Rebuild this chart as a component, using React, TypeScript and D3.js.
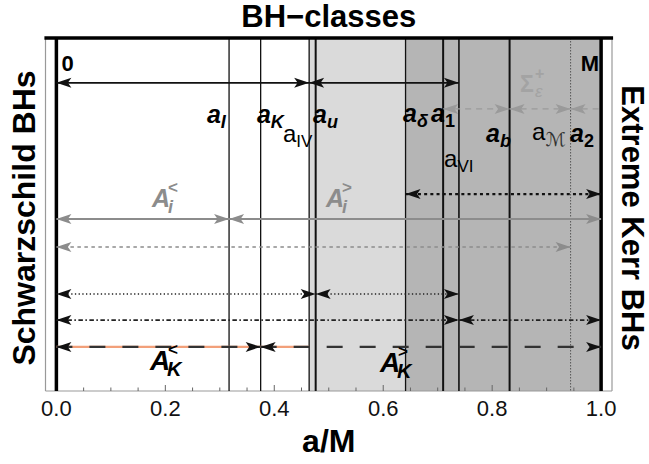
import React from "react";
import * as d3 from "d3";

const WIDTH = 649;
const HEIGHT = 464;

// characteristic spins a/M
const A_I = 0.317;
const A_K = 0.375;
const A_IV = 0.464;
const A_U = 0.476;
const A_DELTA = 0.641;
const A_1 = 0.710;
const A_VI = 0.739;
const A_B = 0.832;
const A_M = 0.944;

const boundaryNames = ["0", "aI", "aK", "aIV", "au", "adelta", "a1", "aVI", "ab", "aM", "M"];
const boundaryValues = [0, A_I, A_K, A_IV, A_U, A_DELTA, A_1, A_VI, A_B, A_M, 1];

const bandStarts = [A_IV, A_DELTA];
const bandEnds = [A_DELTA, 1];

// arrow rows (level in [0,1] of the vertical extent) and their intervals
const rowNames = ["top", "sigma", "dotBold", "Ai", "grayDash", "dotFine", "dashDot", "AK"];
const rowLevels = [0.873, 0.799, 0.558, 0.487, 0.408, 0.275, 0.201, 0.125];
const rowIntervals: [number, number][][] = [
  [[0, A_IV], [A_IV, A_VI]],
  [[A_1, A_B], [A_B, A_M], [A_M, 1]],
  [[A_DELTA, 1]],
  [[0, A_I], [A_I, 1]],
  [[0, A_M]],
  [[0, A_U], [A_U, A_VI]],
  [[0, A_VI], [A_VI, 1]],
  [[0, A_K], [A_K, 1]],
];
const highlightInterval: [number, number] = [0, A_IV];

// spin labels
const labelSubs = ["I", "K", "IV", "u", "δ", "1", "VI", "b", "ℳ", "2"];
const labelX = [0.2764, 0.3682, 0.416, 0.4711, 0.6364, 0.6878, 0.7117, 0.7888, 0.8733, 0.9431];
const labelLevel = [0.759, 0.759, 0.705, 0.759, 0.762, 0.762, 0.635, 0.705, 0.711, 0.705];
const labelBold = [true, true, false, true, true, true, false, true, false, true];

// region labels
const regionMain = ["A", "A", "A", "A"];
const regionSub = ["i", "i", "K", "K"];
const regionSup = ["<", ">", "<", ">"];
const regionX = [0.1755, 0.4948, 0.1718, 0.594];
const regionLevel = [0.521, 0.521, 0.0595, 0.054];

const tickValues = d3.range(0, 1.0001, 0.05);
const tickLabelValues = [0, 0.2, 0.4, 0.6, 0.8, 1.0];

const FONT = "'Liberation Sans', Arial, Helvetica, sans-serif";
const GRAY = "#8c8c8c";

export default function App() {
  const x = d3.scaleLinear().domain([-0.02, 1.02]).range([45.5, 612]);
  const y = d3.scaleLinear().domain([0, 1]).range([391, 38]);
  const yTop = y(1);
  const yBot = y(0);

  const boundaryStyle = (name: string) => {
    switch (name) {
      case "0":
      case "M":
        return { w: 3.5, c: "#000", dash: undefined };
      case "au":
      case "a1":
      case "ab":
        return { w: 2, c: "#111", dash: undefined };
      case "aM":
        return { w: 1, c: "#555", dash: "1.5 1.5" };
      case "aVI":
        return { w: 1.6, c: "#111", dash: undefined };
      default:
        return { w: 1.3, c: "#111", dash: undefined };
    }
  };
  const bandColors = ["#dadada", "#b5b5b5"];

  const rowStyle = (name: string) => {
    switch (name) {
      case "top":
        return { c: "#111", w: 1.6, dash: undefined, head: "#111" };
      case "sigma":
        return { c: "#9a9a9a", w: 1.2, dash: "6 5", head: "#9a9a9a" };
      case "dotBold":
        return { c: "#111", w: 2.2, dash: "3 3.2", head: "#111" };
      case "Ai":
        return { c: GRAY, w: 2, dash: undefined, head: GRAY };
      case "grayDash":
        return { c: GRAY, w: 1.3, dash: "3.5 3.5", head: GRAY };
      case "dotFine":
        return { c: "#222", w: 1.6, dash: "1.3 2.4", head: "#111" };
      case "dashDot":
        return { c: "#222", w: 1.8, dash: "4.5 2.5 1.5 2.5", head: "#111" };
      case "AK":
      default:
        return { c: "#333", w: 2.2, dash: "16 17", head: "#111" };
    }
  };

  const head = (tx: number, ty: number, dir: number, color: string, key: string) => {
    const L = 15;
    const hw = 5;
    const d = `M${tx},${ty} L${tx - dir * L},${ty - hw} L${tx - dir * (L - 3.5)},${ty} L${tx - dir * L},${ty + hw} Z`;
    return <path key={key} d={d} fill={color} stroke="none" />;
  };

  return (
    <svg width={WIDTH} height={HEIGHT} style={{ display: "block", position: "absolute", left: 0, top: 0 }} fontFamily={FONT}>
      <rect x={0} y={0} width={WIDTH} height={HEIGHT} fill="#fff" />
      {/* shaded bands */}
      {bandStarts.map((s, i) => (
        <rect key={"b" + i} x={x(s)} y={yTop} width={x(bandEnds[i]) - x(s)} height={yBot - yTop} fill={bandColors[i]} />
      ))}
      {/* frame */}
      <line x1={x(-0.02)} x2={x(-0.02)} y1={yTop} y2={yBot} stroke="#999" strokeWidth={1.2} />
      <line x1={x(1.02)} x2={x(1.02)} y1={yTop} y2={yBot} stroke="#999" strokeWidth={1.2} />
      <line x1={x(-0.02)} x2={x(1.02)} y1={yBot} y2={yBot} stroke="#999" strokeWidth={1.2} />
      {/* ticks */}
      {tickValues.map((t, i) => {
        const major = Math.abs(t / 0.2 - Math.round(t / 0.2)) < 1e-6;
        return (
          <line key={"t" + i} x1={x(t)} x2={x(t)} y1={yBot} y2={yBot - (major ? 6 : 3.5)} stroke="#666" strokeWidth={1} />
        );
      })}
      {/* boundary lines */}
      {boundaryValues.map((v, i) => {
        const s = boundaryStyle(boundaryNames[i]);
        return (
          <line key={"v" + i} x1={x(v)} x2={x(v)} y1={yTop} y2={yBot} stroke={s.c} strokeWidth={s.w} strokeDasharray={s.dash} />
        );
      })}
      <line x1={x(-0.022)} x2={x(1.022)} y1={yTop} y2={yTop} stroke="#000" strokeWidth={3.5} />
      {/* highlight under the A_K row */}
      <line
        x1={x(highlightInterval[0])}
        x2={x(highlightInterval[1])}
        y1={y(rowLevels[7])}
        y2={y(rowLevels[7])}
        stroke="#f2a07a"
        strokeWidth={2.2}
      />
      {/* arrows */}
      {rowIntervals.map((ints, r) => {
        const s = rowStyle(rowNames[r]);
        const yy = y(rowLevels[r]);
        return (
          <g key={"r" + r}>
            {ints.map(([a, b], k) => {
              const openEnd = rowNames[r] === "sigma" && k === ints.length - 1;
              return (
                <g key={k}>
                  <line x1={x(a)} x2={x(b)} y1={yy} y2={yy} stroke={s.c} strokeWidth={s.w} strokeDasharray={s.dash} />
                  {head(x(a), yy, -1, s.head, "l")}
                  {!openEnd && head(x(b), yy, 1, s.head, "r")}
                </g>
              );
            })}
          </g>
        );
      })}
      {/* spin labels */}
      {labelSubs.map((sub, i) => {
        const bold = labelBold[i];
        const isDigit = /[0-9]/.test(sub);
        const script = sub === "ℳ";
        return (
          <text key={"lab" + i} x={x(labelX[i])} y={y(labelLevel[i])} fill="#000">
            <tspan fontSize={bold ? 25 : 24} fontWeight={bold ? "bold" : "normal"} fontStyle={bold ? "italic" : "normal"}>
              a
            </tspan>
            <tspan
              dy={script ? 6 : 5}
              fontSize={script ? 19 : bold ? 18 : 17}
              fontWeight={bold ? "bold" : "normal"}
              fontStyle={(bold && !isDigit) || script ? "italic" : "normal"}
              fontFamily={script ? "'DejaVu Serif', 'DejaVu Sans', serif" : undefined}
              fill={script ? "#333" : "#000"}
            >
              {sub}
            </tspan>
          </text>
        );
      })}
      {/* region labels */}
      {regionMain.map((m, i) => {
        const px = x(regionX[i]);
        const py = y(regionLevel[i]);
        const isK = regionSub[i] === "K";
        const col = isK ? "#000" : GRAY;
        const fs = isK ? 28 : 25;
        return (
          <g key={"reg" + i} fill={col} fontWeight="bold" fontStyle="italic">
            <text x={px} y={py} fontSize={fs}>{m}</text>
            <text x={px + (isK ? 17 : 16)} y={py + 6} fontSize={isK ? 20 : 18}>{regionSub[i]}</text>
            <text x={px + (isK ? 18 : 16)} y={py - (isK ? 15 : 14)} fontSize={17} fontStyle="normal">
              {regionSup[i]}
            </text>
          </g>
        );
      })}
      {/* Sigma label */}
      <g fill="#a3a3a3" fontWeight="bold">
        <text x={x(0.851)} y={y(0.847)} fontSize={23}>Σ</text>
        <text x={x(0.851) + 15} y={y(0.847) - 13} fontSize={16}>+</text>
        <text x={x(0.851) + 15} y={y(0.847) + 5} fontSize={17} fontStyle="italic" fontWeight="normal">ε</text>
      </g>
      {/* 0 and M */}
      <text x={x(0) + 5} y={y(0.906)} fontSize={22} fontWeight="bold">0</text>
      <text x={x(1) - 2} y={y(0.906)} fontSize={22} fontWeight="bold" textAnchor="end">M</text>
      {/* tick labels */}
      {tickLabelValues.map((t, i) => (
        <text key={"tl" + i} x={x(t)} y={416} fontSize={22} textAnchor="middle" fill="#111">
          {d3.format(".1f")(t)}
        </text>
      ))}
      {/* axis label */}
      <text x={x(0.5)} y={452} fontSize={32} fontWeight="bold" textAnchor="middle">a/M</text>
      {/* title */}
      <text x={x(0.5)} y={27} fontSize={31} fontWeight="bold" textAnchor="middle">BH−classes</text>
      {/* side labels */}
      <text transform={`translate(35,218) rotate(-90)`} fontSize={32} fontWeight="bold" textAnchor="middle">
        Schwarzschild BHs
      </text>
      <text transform={`translate(622,218) rotate(90)`} fontSize={31} fontWeight="bold" textAnchor="middle">
        Extreme Kerr BHs
      </text>
    </svg>
  );
}
